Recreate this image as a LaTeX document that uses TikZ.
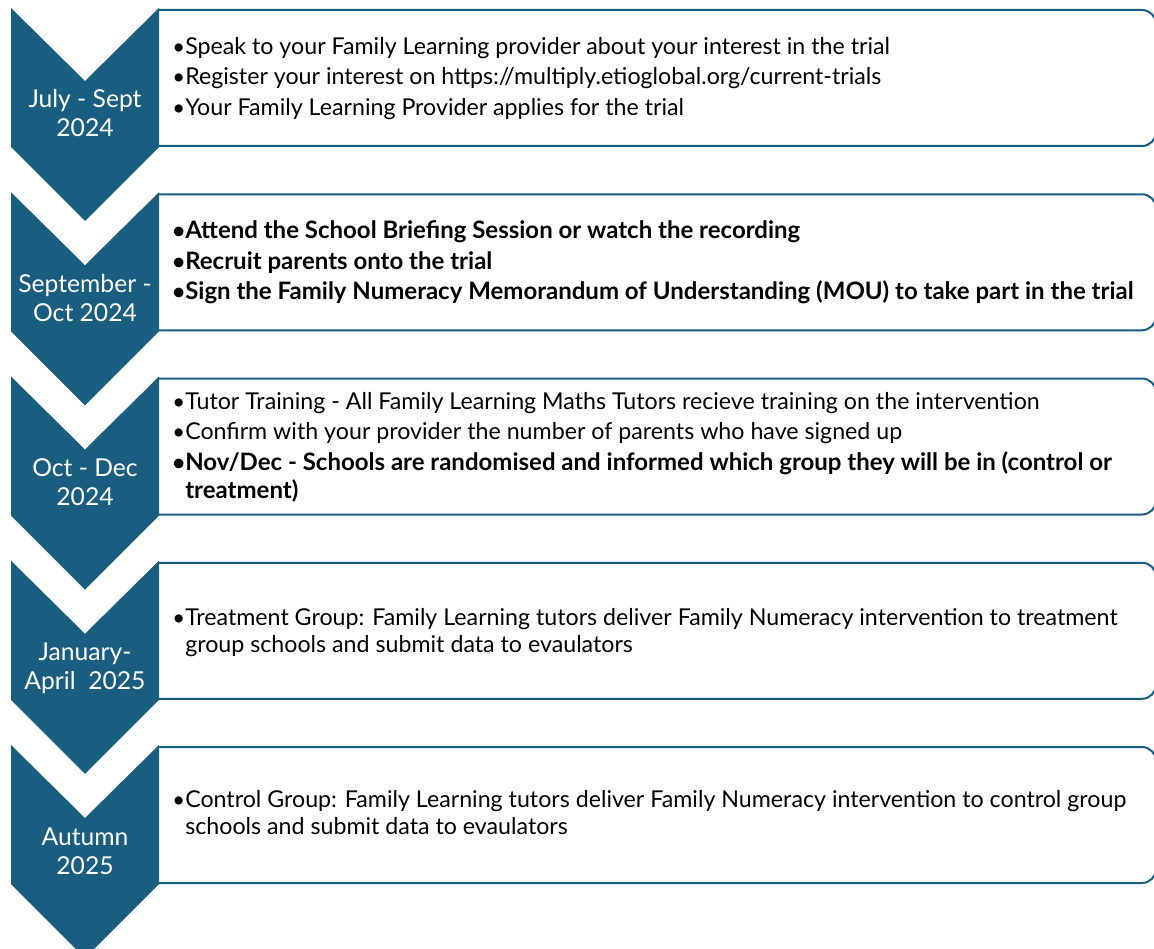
\documentclass[tikz,border=0pt]{standalone}
\usepackage{fontspec}
\setmainfont{Lato}
\definecolor{chev}{RGB}{25,94,128}
\tikzset{
  chevshape/.style={fill=chev, draw=none},
  stagebox/.style={draw=chev, line width=1.5pt, fill=white},
  labeltext/.style={text=white, anchor=base, inner sep=0pt, font=\fontsize{18.5}{22}\selectfont},
  itemtext/.style={anchor=base west, inner sep=0pt, font=\fontsize{17.4}{21}\selectfont},
  itembold/.style={itemtext, font=\fontsize{18}{21}\selectfont\bfseries},
  bul/.style={anchor=base west, inner sep=0pt, font=\fontsize{16.5}{20}\selectfont}
}
\begin{document}
\begin{tikzpicture}[x=0.75pt,y=-0.75pt]
\useasboundingbox (0,0) rectangle (1154,949);
\fill[white] (0,0) rectangle (1154,949);
% boxes first, chevrons after
\foreach \t in {8,192.25,376.5,560.75,745} {
  \draw[stagebox] (159,\t+2) -- (1142,\t+2) arc[start angle=-90, end angle=0, radius=14]
     -- (1156,\t+124) arc[start angle=0, end angle=90, radius=14] -- (159,\t+138);
}
\foreach \t in {8,192.25,376.5,560.75,745} {
  \fill[chevshape] (11,\t) -- (85,\t+73) -- (159,\t) -- (159,\t+139) -- (85,\t+213) -- (11,\t+139) -- cycle;
}
% chevron labels
\node[labeltext] (l1a) at (85,108) {July - Sept};
\node[labeltext] (l1b) at (85,137) {2024};
\node[labeltext] (l2a) at (85,292.25) {September -};
\node[labeltext] (l2b) at (85,321.25) {Oct 2024};
\node[labeltext] (l3a) at (85,476.5) {Oct - Dec};
\node[labeltext] (l3b) at (85,505.5) {2024};
\node[labeltext] (l4a) at (85,660.75) {January-};
\node[labeltext] (l4b) at (85,689.75) {April\ \ 2025};
\node[labeltext] (l5a) at (85,845) {Autumn};
\node[labeltext] (l5b) at (85,874) {2025};
% stage 1
\node[bul] (p1a) at (172,54.5) {\textbullet};
\node[itemtext] (t1a) at (185,54.5) {Speak to your Family Learning provider about your interest in the trial};
\node[bul] (p1b) at (172,85) {\textbullet};
\node[itemtext] (t1b) at (185,85) {Register your interest on https://multiply.etioglobal.org/current-trials};
\node[bul] (p1c) at (172,115.5) {\textbullet};
\node[itemtext] (t1c) at (185,115.5) {Your Family Learning Provider applies for the trial};
% stage 2
\node[bul] (p2a) at (172,238.5) {\textbf{\textbullet}};
\node[itembold] (t2a) at (185,238.5) {Attend the School Briefing Session or watch the recording};
\node[bul] (p2b) at (172,269) {\textbf{\textbullet}};
\node[itembold] (t2b) at (185,269) {Recruit parents onto the trial};
\node[bul] (p2c) at (172,299.5) {\textbf{\textbullet}};
\node[itembold] (t2c) at (185,299.5) {Sign the Family Numeracy Memorandum of Understanding (MOU) to take part in the trial};
% stage 3
\node[bul] (p3a) at (172,409) {\textbullet};
\node[itemtext] (t3a) at (185,409) {Tutor Training - All Family Learning Maths Tutors recieve training on the intervention};
\node[bul] (p3b) at (172,439) {\textbullet};
\node[itemtext] (t3b) at (185,439) {Confirm with your provider the number of parents who have signed up};
\node[bul] (p3c) at (172,470) {\textbf{\textbullet}};
\node[itembold] (t3c) at (185,470) {Nov/Dec - Schools are randomised and informed which group they will be in (control or};
\node[itembold] (t3d) at (185,498) {treatment)};
% stage 4
\node[bul] (p4a) at (172,625) {\textbullet};
\node[itemtext] (t4a) at (185,625) {Treatment Group: Family Learning tutors deliver Family Numeracy intervention to treatment};
\node[itemtext] (t4b) at (185,652) {group schools and submit data to evaulators};
% stage 5
\node[bul] (p5a) at (172,807) {\textbullet};
\node[itemtext] (t5a) at (185,807) {Control Group: Family Learning tutors deliver Family Numeracy intervention to control group};
\node[itemtext] (t5b) at (185,834) {schools and submit data to evaulators};
\end{tikzpicture}
\end{document}
